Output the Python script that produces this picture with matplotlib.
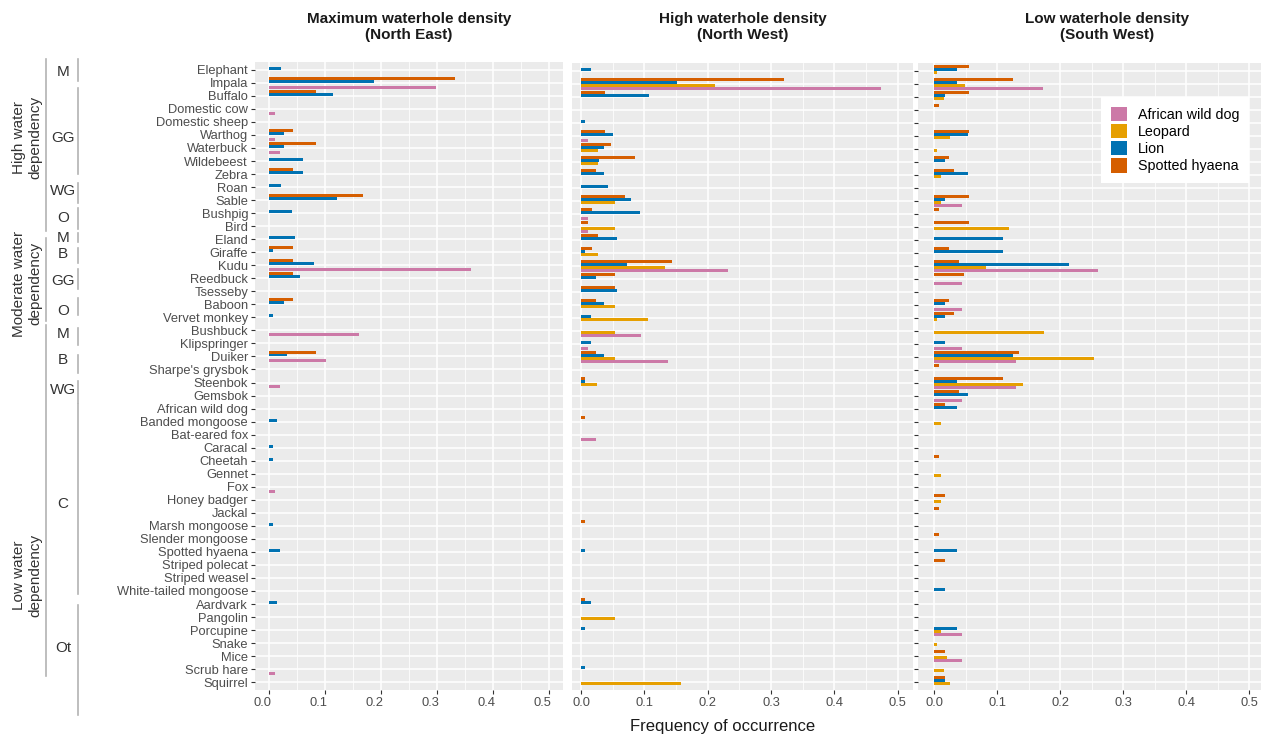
import numpy as np
import matplotlib
matplotlib.use('Agg')
import matplotlib.pyplot as plt
from matplotlib.patches import Patch
from matplotlib.lines import Line2D
from matplotlib.transforms import blended_transform_factory, ScaledTranslation

plt.rcParams['font.family'] = ['Liberation Sans', 'DejaVu Sans']

# prey species, top to bottom
species = ['Elephant', 'Impala', 'Buffalo', 'Domestic cow', 'Domestic sheep', 'Warthog', 'Waterbuck', 'Wildebeest',
           'Zebra', 'Roan', 'Sable', 'Bushpig', 'Bird', 'Eland', 'Giraffe', 'Kudu',
           'Reedbuck', 'Tsesseby', 'Baboon', 'Vervet monkey', 'Bushbuck', 'Klipspringer', 'Duiker', "Sharpe's grysbok",
           'Steenbok', 'Gemsbok', 'African wild dog', 'Banded mongoose', 'Bat-eared fox', 'Caracal', 'Cheetah', 'Gennet',
           'Fox', 'Honey badger', 'Jackal', 'Marsh mongoose', 'Slender mongoose', 'Spotted hyaena', 'Striped polecat', 'Striped weasel',
           'White-tailed mongoose', 'Aardvark', 'Pangolin', 'Porcupine', 'Snake', 'Mice', 'Scrub hare', 'Squirrel']

# Maximum waterhole density (North East)
ne_hyaena = [0, .333, .084, 0, 0, .042, .084, 0,
             .042, 0, .167, 0, 0, 0, .042, .042,
             .042, 0, .042, 0, 0, 0, .084, 0,
             0, 0, 0, 0, 0, 0, 0, 0,
             0, 0, 0, 0, 0, 0, 0, 0,
             0, 0, 0, 0, 0, 0, 0, 0]
ne_lion = [.021, .188, .114, 0, 0, .027, .027, .061,
           .061, .021, .121, .041, 0, .047, .0065, .081,
           .055, 0, .027, .0065, 0, 0, .033, 0,
           0, 0, 0, .014, 0, .0065, .0065, 0,
           0, 0, 0, .0065, 0, .020, 0, 0,
           0, .014, 0, 0, 0, 0, 0, 0]
ne_leopard = [0] * 48
ne_wilddog = [0, .299, 0, .010, 0, .010, .020, 0,
              0, 0, 0, 0, 0, 0, 0, .360,
              0, 0, 0, 0, .160, 0, .101, 0,
              .020, 0, 0, 0, 0, 0, 0, 0,
              .010, 0, 0, 0, 0, 0, 0, 0,
              0, 0, 0, 0, 0, 0, .010, 0]

# High waterhole density (North West)
nw_hyaena = [0, .320, .038, 0, 0, .038, .048, .086,
             .023, 0, .070, .017, .011, .027, .017, .143,
             .054, .054, .023, 0, 0, 0, .023, 0,
             .006, 0, 0, .006, 0, 0, 0, 0,
             0, 0, 0, .006, 0, 0, 0, 0,
             0, .006, 0, 0, 0, 0, 0, 0]
nw_lion = [.015, .151, .107, 0, .007, .051, .036, .029,
           .036, .043, .079, .093, 0, .057, .007, .072,
           .023, .057, .036, .015, 0, .015, .036, 0,
           .007, 0, 0, 0, 0, 0, 0, 0,
           0, 0, 0, 0, 0, .007, 0, 0,
           0, .015, 0, .007, 0, 0, .007, 0]
nw_leopard = [0, .211, 0, 0, 0, 0, .027, .027,
              0, 0, .053, 0, .053, 0, .027, .132,
              0, 0, .053, .105, .053, 0, .053, 0,
              .026, 0, 0, 0, 0, 0, 0, 0,
              0, 0, 0, 0, 0, 0, 0, 0,
              0, 0, .053, 0, 0, 0, 0, .158]
nw_wilddog = [0, .473, 0, 0, 0, .011, 0, 0,
              0, 0, 0, .011, .011, 0, 0, .232,
              0, 0, 0, 0, .095, .011, .137, 0,
              0, 0, 0, 0, .023, 0, 0, 0,
              0, 0, 0, 0, 0, 0, 0, 0,
              0, 0, 0, 0, 0, 0, 0, 0]

# Low waterhole density (South West)
sw_hyaena = [.055, .126, .055, .008, 0, .055, 0, .024,
             .032, 0, .055, .008, .055, 0, .024, .040,
             .048, 0, .024, .032, 0, 0, .134, .008,
             .110, .040, .018, 0, 0, 0, .008, 0,
             0, .018, .008, 0, .008, 0, .018, 0,
             0, 0, 0, 0, 0, .018, 0, .018]
sw_lion = [.036, .036, .017, 0, 0, .054, 0, .017,
           .054, 0, .017, 0, 0, .110, .110, .214,
           0, 0, .017, .017, 0, .017, .125, 0,
           .036, .054, .036, 0, 0, 0, 0, 0,
           0, 0, 0, 0, 0, .036, 0, 0,
           .017, 0, 0, .036, 0, 0, 0, .017]
sw_leopard = [.005, .049, .015, 0, 0, .025, .005, 0,
              .011, 0, .011, 0, .119, 0, 0, .083,
              0, 0, 0, .005, .175, 0, .254, 0,
              .141, 0, 0, .011, 0, 0, 0, .011,
              0, .011, 0, 0, 0, 0, 0, 0,
              0, 0, 0, .011, .005, .020, .015, .025]
sw_wilddog = [0, .173, 0, 0, 0, 0, 0, 0,
              0, 0, .044, 0, 0, 0, 0, .260,
              .044, 0, .044, 0, 0, .044, .130, 0,
              .130, .044, 0, 0, 0, 0, 0, 0,
              0, 0, 0, 0, 0, 0, 0, 0,
              0, 0, 0, .044, 0, .044, 0, 0]

titles = ['Maximum waterhole density\n(North East)', 'High waterhole density\n(North West)',
          'Low waterhole density\n(South West)']
legend_labels = ['African wild dog', 'Leopard', 'Lion', 'Spotted hyaena']
legend_colors = ['#CC79A7', '#E69F00', '#0072B2', '#D55E00']

# feeding guild labels and water dependency classes drawn beside the species names
guild_names = ['M', 'GG', 'WG', 'O', 'M', 'B', 'GG', 'O', 'M', 'B', 'WG', 'C', 'Ot']
water_names = ['High water\ndependency', 'Moderate water\ndependency', 'Low water\ndependency']

# bracket extents (in row units) of the hand drawn annotation
guild_span = [(-0.85, 0.85), (1.4, 8.0), (8.7, 10.2), (10.6, 12.2), (12.5, 13.25), (13.65, 14.8),
              (15.25, 16.8), (17.55, 18.85), (19.8, 21.15), (21.9, 23.3), (23.9, 25.6), (25.65, 40.2),
              (41.1, 49.5)]
guild_label_at = [0.15, 5.2, 9.3, 11.4, 12.9, 14.1, 16.2, 18.5, 20.25, 22.3, 24.6, 33.3, 44.4]
water_span = [(-0.85, 12.35), (12.9, 19.3), (19.6, 46.5)]
water_label_at = [5.2, 16.4, 38.8]

W, H = 1261, 741
fig = plt.figure(figsize=(W / 100, H / 100), dpi=100)


def box(l, t, r, b):
    return [l / W, 1 - b / H, (r - l) / W, (b - t) / H]


ax1 = fig.add_axes(box(255, 62, 563, 690))
ax2 = fig.add_axes(box(571.7, 63, 913, 690))
ax3 = fig.add_axes(box(918.3, 63, 1265, 690))
axes = [ax1, ax2, ax3]
xlims = [(-0.025, 0.525), (-0.0147, 0.5242), (-0.025, 0.525)]

panels = [[ne_hyaena, ne_lion, ne_leopard, ne_wilddog],
          [nw_hyaena, nw_lion, nw_leopard, nw_wilddog],
          [sw_hyaena, sw_lion, sw_leopard, sw_wilddog]]
# drawing order top to bottom within each row
bar_colors = ['#D55E00', '#0072B2', '#E69F00', '#CC79A7']
bw = 0.225
offsets = np.array([-1.5, -0.5, 0.5, 1.5]) * bw
y = np.arange(len(species))

for ax, series, xl in zip(axes, panels, xlims):
    ax.set_facecolor('#EBEBEB')
    for s in ax.spines.values():
        s.set_visible(False)
    for k in range(4):
        ax.barh(y + offsets[k], series[k], height=bw, color=bar_colors[k], linewidth=0)
    ax.set_ylim(len(species) - 0.4, -0.6)
    ax.set_xlim(*xl)
    ax.set_xticks(np.arange(0, 0.51, 0.1))
    ax.set_xticklabels(['0.0', '0.1', '0.2', '0.3', '0.4', '0.5'])
    ax.set_xticks(np.arange(0.05, 0.5, 0.1), minor=True)
    ax.set_yticks(y)
    ax.set_axisbelow(True)
    ax.grid(which='major', color='white', linewidth=1.1)
    ax.grid(which='minor', axis='x', color='white', linewidth=0.55)
    ax.tick_params(which='minor', length=0)
    ax.tick_params(which='major', length=3, width=0.8, color='#333333', labelcolor='#4D4D4D',
                   labelsize=9.3, pad=2)

ax1.set_yticklabels(species)
ax2.tick_params(axis='y', left=False, labelleft=False)
ax3.tick_params(axis='y', labelleft=False)
for lab in ax1.get_xticklabels():
    lab.set_transform(lab.get_transform() + ScaledTranslation(-0.07, 0, fig.dpi_scale_trans))

for x, t in zip([409, 743, 1107], titles):
    fig.text(x / W, 1 - 27 / H, t, ha='center', va='center', fontsize=11, fontweight='bold', color='#1A1A1A')

fig.text(723 / W, 1 - 727 / H, 'Frequency of occurrence', ha='center', va='center', fontsize=12, color='#1A1A1A')

handles = [Patch(facecolor=c, edgecolor='none') for c in legend_colors]
ax3.legend(handles, legend_labels, loc='upper left', bbox_to_anchor=(1100.7 / W, 1 - 96.7 / H),
           bbox_transform=fig.transFigure, frameon=True, facecolor='white', edgecolor='none',
           framealpha=1, fancybox=False, fontsize=10.3, handlelength=1.15, handleheight=1.15,
           handletextpad=0.75, labelspacing=0.16, borderpad=0.7, borderaxespad=0)

# left hand annotation of feeding guilds and water dependency
tr = blended_transform_factory(fig.transFigure, ax1.transData)
for name, (a, b), c in zip(guild_names, guild_span, guild_label_at):
    fig.add_artist(Line2D([78 / W, 78 / W], [a, b], transform=tr, color='#B3B3B3', lw=1.2))
    fig.text(63 / W, c, name, transform=tr, ha='center', va='center', fontsize=11, color='#333333')
for name, (a, b), c in zip(water_names, water_span, water_label_at):
    fig.add_artist(Line2D([46 / W, 46 / W], [a, b], transform=tr, color='#B3B3B3', lw=1.2))
    fig.text(27 / W, c, name, transform=tr, ha='center', va='center', rotation=90,
             fontsize=11, color='#333333', multialignment='center')

plt.savefig('out.png', dpi=100)
